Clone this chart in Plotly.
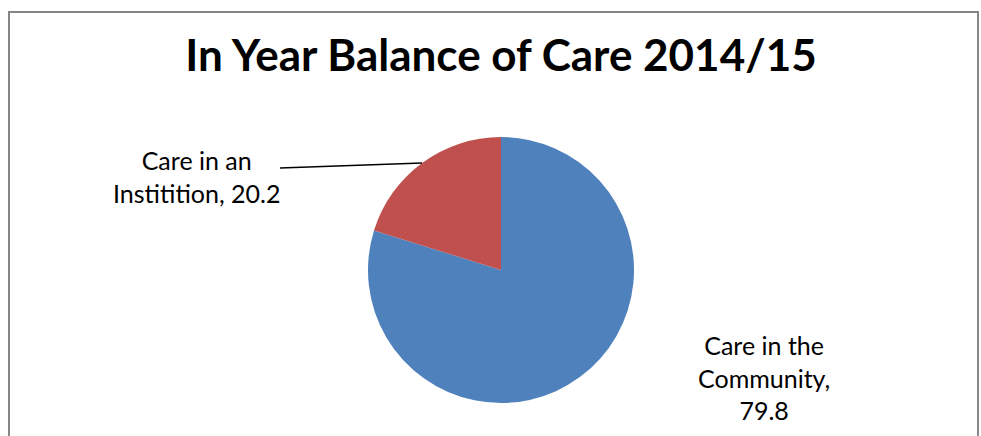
import plotly.graph_objects as go

# Balance of care data
categories = ["Care in the Community", "Care in an Institition"]
values = [79.8, 20.2]
colors = ["#4F81BD", "#C0504D"]
label_text = ["Care in the<br>Community,<br>{v}", "Care in an<br>Institition, {v}"]

W, H = 981, 436
cx, cy, r = 501, 270, 133  # pie centre and radius in pixels

fig = go.Figure(
    go.Pie(
        labels=categories,
        values=values,
        marker=dict(colors=colors, line=dict(width=0)),
        sort=False,
        direction="clockwise",
        rotation=0,
        textinfo="none",
        hoverinfo="label+value",
        showlegend=False,
        domain=dict(
            x=[(cx - r) / W, (cx + r) / W],
            y=[(H - cy - r) / H, (H - cy + r) / H],
        ),
    )
)

font_lbl = dict(family="Lato, 'Open Sans', sans-serif", size=25, color="#000000")

annotations = [
    dict(text=label_text[0].format(v=values[0]), x=764 / W, y=1 - 377 / H,
         xref="paper", yref="paper", showarrow=False, align="center",
         font=font_lbl, xanchor="center", yanchor="middle"),
    dict(text=label_text[1].format(v=values[1]), x=196 / W, y=1 - 176 / H,
         xref="paper", yref="paper", showarrow=False, align="center",
         font=font_lbl, xanchor="center", yanchor="middle"),
]

shapes = [
    # chart border
    dict(type="rect", xref="paper", yref="paper",
         x0=9 / W, x1=978 / W, y0=-0.1, y1=1 - 12 / H,
         line=dict(color="#868686", width=2), fillcolor="rgba(0,0,0,0)"),
    # leader line for the institution slice
    dict(type="line", xref="paper", yref="paper",
         x0=280 / W, y0=1 - 168 / H, x1=422 / W, y1=1 - 163 / H,
         line=dict(color="#000000", width=1.5)),
]

fig.update_layout(
    width=W,
    height=H,
    margin=dict(l=0, r=0, t=0, b=0),
    paper_bgcolor="white",
    plot_bgcolor="white",
    title=dict(
        text="<b>In Year Balance of Care 2014/15</b>",
        x=501 / W, xanchor="center",
        y=1 - 56 / H, yanchor="middle",
        font=dict(family="Lato, 'Open Sans', sans-serif", size=44, color="#000000"),
    ),
    annotations=annotations,
    shapes=shapes,
)

fig.write_html("out.html")
